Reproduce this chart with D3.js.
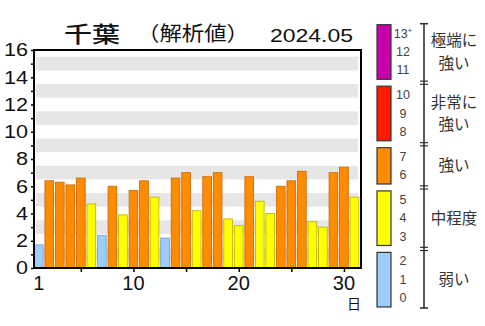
<!DOCTYPE html>
<html><head><meta charset="utf-8">
<script src="https://cdn.jsdelivr.net/npm/d3@7"></script>
<style>html,body{margin:0;padding:0;background:#fff;}svg{display:block;}</style>
</head><body>
<svg id="c" width="485" height="326"></svg>
<script>
// ---- data ----
const days = d3.range(1, 32);
const windValues = [1.7, 6.4, 6.3, 6.1, 6.6, 4.7, 2.4, 6.0, 3.9, 5.7, 6.4, 5.2, 2.2, 6.6, 7.0,
                    4.2, 6.7, 7.0, 3.6, 3.1, 6.7, 4.9, 4.0, 6.0, 6.4, 7.1, 3.4, 3.0, 7.0, 7.4, 5.2];
const yTicks = d3.range(0, 17);
const yLabelTicks = [0, 2, 4, 6, 8, 10, 12, 14, 16];
const xTicks = [5, 10, 15, 20, 25, 30];
const xLabelTicks = [1, 10, 20, 30];
const bandCenters = [1, 3, 5, 7, 9, 11, 13, 15];
const titleMain = "千葉";
const titleSub = "（解析値）";
const titleDate = "2024.05";
const xUnit = "日";
// legend groups: levels (bottom..top), fill, stroke, label lines
const groupLines = [["弱い"], ["中程度"], ["強い"], ["非常に", "強い"], ["極端に", "強い"]];
const groupLevels = [[0, 1, 2], [3, 4, 5], [6, 7], [8, 9, 10], [11, 12, 13]];
const levelLabels = ["0","1","2","3","4","5","6","7","8","9","10","11","12","13"];
const groupFills = ["#9fcdfb", "#ffff00", "#ff8c00", "#ff1a00", "#c800aa"];
const barStrokes = ["#6f9fcf", "#b8b000", "#c86400", "#b00000", "#800070"];

// ---- layout ----
const svg = d3.select("#c");
const plot = {l: 34, t: 50, r: 361, b: 268};
const x = d3.scaleLinear().domain([0.55, 31.62]).range([plot.l, plot.r]);
const y = d3.scaleLinear().domain([0, 16]).range([plot.b, plot.t]);
const barW = 8.7;
const groupOf = v => {
  const r = Math.round(v);
  const k = groupLevels.findIndex(g => r >= g[0] && r <= g[g.length - 1]);
  return k < 0 ? groupLevels.length - 1 : k;
};

const latin = "'Liberation Sans', Arial, Helvetica, sans-serif";
const cjk = "'Noto Sans CJK JP', 'Noto Sans', sans-serif";

// bands
svg.append("g").selectAll("rect").data(bandCenters).join("rect")
  .attr("x", plot.l + 2).attr("width", plot.r - plot.l - 5)
  .attr("y", d => y(d + 0.5)).attr("height", d => y(d - 0.5) - y(d + 0.5))
  .attr("fill", "#e6e6e6");

// bars
svg.append("g").selectAll("rect").data(days).join("rect")
  .attr("x", d => x(d) - barW / 2).attr("width", barW)
  .attr("y", (d, i) => y(windValues[i])).attr("height", (d, i) => y(0) - y(windValues[i]))
  .attr("fill", (d, i) => groupFills[groupOf(windValues[i])])
  .attr("stroke", (d, i) => barStrokes[groupOf(windValues[i])])
  .attr("stroke-width", 0.8);

// axes
const yAxis = svg.append("g").attr("transform", `translate(${plot.l},0)`)
  .call(d3.axisLeft(y).tickValues(yTicks).tickSize(3).tickFormat(""));
const xAxis = svg.append("g").attr("transform", `translate(0,${plot.b})`)
  .call(d3.axisBottom(x).tickValues(xTicks).tickSize(4).tickFormat(""));
[yAxis, xAxis].forEach(a => { a.select(".domain").remove(); a.selectAll("line").attr("stroke", "#000").attr("stroke-width", 1.5); });

// frame
svg.append("rect").attr("x", plot.l).attr("y", plot.t)
  .attr("width", plot.r - plot.l).attr("height", plot.b - plot.t)
  .attr("fill", "none").attr("stroke", "#000").attr("stroke-width", 2);

// y labels
svg.append("g").selectAll("text").data(yLabelTicks).join("text")
  .attr("transform", d => `translate(28,${y(d)}) scale(1.2,1)`)
  .attr("text-anchor", "end").attr("dominant-baseline", "central")
  .attr("font-family", latin).attr("font-size", 18).attr("fill", "#111")
  .text(d => d);

// x labels
svg.append("g").selectAll("text").data(xLabelTicks).join("text")
  .attr("x", d => x(d)).attr("y", 290)
  .attr("text-anchor", "middle")
  .attr("font-family", latin).attr("font-size", 20).attr("fill", "#111")
  .text(d => d);
svg.append("text").attr("x", 354).attr("y", 309).attr("text-anchor", "middle")
  .attr("font-family", cjk).attr("font-size", 14).attr("fill", "#111").text(xUnit);

// title
svg.append("text").attr("x", 64).attr("y", 42).attr("font-family", cjk).attr("font-size", 22)
  .attr("font-weight", 500)
  .attr("textLength", 56).attr("lengthAdjust", "spacingAndGlyphs").attr("fill", "#111").text(titleMain);
svg.append("text").attr("x", 137).attr("y", 41).attr("font-family", cjk).attr("font-size", 20)
  .attr("textLength", 112).attr("lengthAdjust", "spacingAndGlyphs").attr("fill", "#111").text(titleSub);
svg.append("text").attr("x", 270).attr("y", 42).attr("font-family", latin).attr("font-size", 19)
  .attr("textLength", 83).attr("lengthAdjust", "spacingAndGlyphs").attr("fill", "#111").text(titleDate);

// ---- legend ----
const levelStep = 18.3, groupGap = 6.6, legBase = 298;
const gi = lv => groupLevels.findIndex(g => g.includes(lv));
const yL = lv => legBase - lv * levelStep - gi(lv) * groupGap;
const leg = svg.append("g");
const legFont = 15.5, lh = 22.6;
groupLevels.forEach((lv, k) => {
  const top = yL(lv[lv.length - 1]) - 9, bot = yL(lv[0]) + 9;
  leg.append("rect").attr("x", 377).attr("y", top).attr("width", 14).attr("height", bot - top)
    .attr("fill", groupFills[k]).attr("stroke", "#333").attr("stroke-width", 1.2);
  const mid = (yL(lv[0]) + yL(lv[lv.length - 1])) / 2;
  const lines = groupLines[k];
  const t = leg.append("text").attr("text-anchor", "middle")
    .attr("font-family", cjk).attr("font-size", legFont).attr("fill", "#333");
  lines.forEach((s, j) => {
    t.append("tspan").attr("x", 454)
      .attr("y", mid + (j - (lines.length - 1) / 2) * lh + legFont * 0.36)
      .text(s);
  });
});
levelLabels.forEach((t, lv) => {
  const tx = leg.append("text").attr("x", 403).attr("y", yL(lv))
    .attr("text-anchor", "middle").attr("dominant-baseline", "central")
    .attr("font-family", latin).attr("font-size", 12.5).attr("fill", "#444").text(t);
  if (lv === 13) tx.append("tspan").attr("font-size", 8).attr("dy", -4).text("+");
});
// bracket
const bx = 424;
const bTop = yL(13) - 10, bBot = yL(0) + 10;
leg.append("line").attr("x1", bx).attr("x2", bx).attr("y1", bTop).attr("y2", bBot)
  .attr("stroke", "#333").attr("stroke-width", 1.6);
[bTop, bBot].forEach(v => leg.append("line").attr("x1", bx - 4).attr("x2", bx + 4).attr("y1", v).attr("y2", v)
  .attr("stroke", "#333").attr("stroke-width", 1.6));
for (let k = 0; k < groupLevels.length - 1; k++) {
  const a = yL(groupLevels[k][groupLevels[k].length - 1]), b = yL(groupLevels[k + 1][0]);
  const m = (a + b) / 2;
  [m - 1.6, m + 1.6].forEach(v => leg.append("line").attr("x1", bx - 4).attr("x2", bx + 4).attr("y1", v).attr("y2", v)
    .attr("stroke", "#333").attr("stroke-width", 1.2));
}
</script>
</body></html>
